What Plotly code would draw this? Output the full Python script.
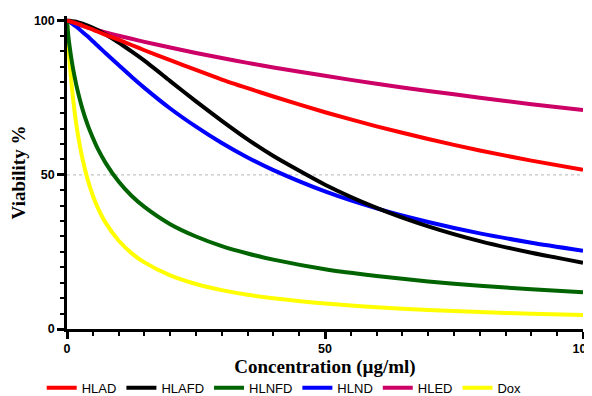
import plotly.graph_objects as go

# Concentration (µg/ml) sample points
conc = [0, 0.25, 0.5, 1, 1.5, 2, 3, 4, 5, 6, 7.5, 10, 12.5, 15, 20, 25, 30, 35, 40, 50, 60, 70, 80, 90, 100]

# Viability %
hlad = [100, 99.9, 99.8, 99.5, 99.3, 99.0, 98.4, 97.7, 97.1, 96.4, 95.4, 93.8, 92.1, 90.4, 87.2, 84.0, 80.9, 78.1, 75.4, 70.3, 65.7, 61.6, 57.9, 54.6, 51.6]
hlafd = [100, 100.0, 99.95, 99.84, 99.7, 99.5, 99.0, 98.4, 97.7, 96.9, 95.5, 92.9, 90.0, 87.0, 80.4, 73.8, 67.5, 61.5, 56.1, 46.8, 39.3, 33.3, 28.5, 24.7, 21.5]
hlnfd = [100, 95.1, 91.7, 86.1, 81.6, 77.7, 71.3, 66.2, 62.0, 58.3, 53.8, 47.8, 43.2, 39.6, 34.0, 30.0, 26.9, 24.5, 22.5, 19.4, 17.2, 15.4, 14.0, 12.9, 11.9]
hlnd = [100, 99.8, 99.6, 99.0, 98.4, 97.8, 96.3, 94.9, 93.3, 91.8, 89.4, 85.6, 81.8, 78.2, 71.5, 65.6, 60.3, 55.6, 51.5, 44.6, 39.1, 34.7, 31.0, 28.0, 25.4]
hled = [100, 99.8, 99.7, 99.4, 99.1, 98.8, 98.3, 97.8, 97.3, 96.9, 96.2, 95.1, 94.1, 93.1, 91.3, 89.5, 87.9, 86.3, 84.8, 82.1, 79.5, 77.2, 75.0, 72.9, 71.0]
dox = [100, 92.6, 86.7, 77.4, 70.1, 64.2, 55.2, 48.5, 43.3, 39.2, 34.4, 28.7, 24.6, 21.6, 17.4, 14.6, 12.6, 11.1, 10.0, 8.25, 7.05, 6.17, 5.49, 4.95, 4.5]

series_names = ["HLAD", "HLAFD", "HLNFD", "HLND", "HLED", "Dox"]
series_vals = [hlad, hlafd, hlnfd, hlnd, hled, dox]
series_colors = ["#FF0000", "#000000", "#006400", "#0000FF", "#CC0066", "#FFFF00"]

x_tickvals = [0, 50, 100]
y_tickvals = [0, 50, 100]

fig = go.Figure()
# draw in reverse so HLAD sits on top; legend reversed back
for name, vals, col in reversed(list(zip(series_names, series_vals, series_colors))):
    fig.add_trace(go.Scatter(x=conc, y=vals, name=name, mode="lines",
                             line=dict(color=col, width=4, shape="spline", smoothing=0.6)))

fig.add_hline(y=50, line=dict(color="#c4c4c4", width=1.2, dash="dot"), layer="below")

tickfont = dict(family="Liberation Sans, Arial", size=12.5, color="black")
titlefont = dict(family="Liberation Serif, Times New Roman", size=19, color="black")

# page body has an 8px margin, so the figure is 8px smaller and offset
fig.update_layout(
    width=584, height=388,
    margin=dict(l=59, r=9, t=8, b=67, autoexpand=False),
    plot_bgcolor="white", paper_bgcolor="white",
    showlegend=True,
    legend=dict(orientation="h", traceorder="reversed", x=-0.049, xanchor="left",
                y=-0.188, yanchor="middle",
                font=dict(family="Liberation Sans, Arial", size=13, color="black"),
                bgcolor="rgba(0,0,0,0)"),
    xaxis=dict(range=[0, 100], tickvals=x_tickvals, ticktext=["<b>%d</b>" % v for v in x_tickvals],
               showline=True, linecolor="black", linewidth=2.5, ticks="outside",
               ticklen=7, tickwidth=2.5, tickcolor="black", showgrid=False, zeroline=False,
               tickfont=tickfont, ticklabelstandoff=-1, automargin=False,
               ticklabeloverflow="allow",
               minor=dict(dtick=5, ticks="outside", ticklen=4, tickwidth=2, tickcolor="black", showgrid=False),
               title=dict(text="<b>Concentration (µg/ml)</b>", font=titlefont, standoff=3)),
    yaxis=dict(range=[0, 101.5], tickvals=y_tickvals, ticktext=["<b>%d</b>" % v for v in y_tickvals],
               showline=True, linecolor="black", linewidth=2.5, ticks="outside",
               ticklen=7, tickwidth=2.5, tickcolor="black", showgrid=False, zeroline=False,
               tickfont=tickfont, automargin=False,
               minor=dict(dtick=5, ticks="outside", ticklen=4, tickwidth=2, tickcolor="black", showgrid=False),
               title=dict(text="<b>Viability %</b>", font=titlefont, standoff=6)),
)

fig.write_html("out.html")
